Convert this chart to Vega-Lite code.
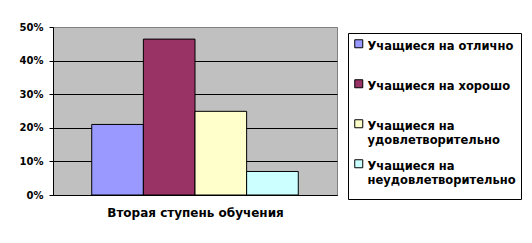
{
  "$schema": "https://vega.github.io/schema/vega-lite/v6.json",
  "width": 284,
  "height": 168,
  "autosize": {"type": "none"},
  "padding": {"left": 53, "top": 27, "right": 195, "bottom": 48},
  "background": "white",
  "config": {
    "view": {"fill": "#C0C0C0", "stroke": "#808080", "strokeWidth": 1},
    "font": "DejaVu Sans"
  },
  "data": {
    "values": [
      {"group": "Вторая ступень обучения", "series": "Учащиеся на отлично", "value": 0.21},
      {"group": "Вторая ступень обучения", "series": "Учащиеся на хорошо", "value": 0.464},
      {"group": "Вторая ступень обучения", "series": "Учащиеся на удовлетворительно", "value": 0.249},
      {"group": "Вторая ступень обучения", "series": "Учащиеся на неудовлетворительно", "value": 0.07}
    ]
  },
  "mark": {"type": "bar", "stroke": "black", "strokeWidth": 1},
  "encoding": {
    "x": {
      "field": "series",
      "type": "nominal",
      "sort": null,
      "scale": {"paddingInner": 0, "paddingOuter": 0.75},
      "axis": {
        "title": "Вторая ступень обучения",
        "labels": false,
        "ticks": false,
        "domainColor": "black",
        "titleFont": "DejaVu Sans",
        "titleFontSize": 12,
        "titleFontWeight": "bold",
        "titleColor": "black",
        "titlePadding": 12
      }
    },
    "y": {
      "field": "value",
      "type": "quantitative",
      "scale": {"domain": [0, 0.5], "nice": false},
      "axis": {
        "title": null,
        "format": ".0%",
        "values": [0, 0.1, 0.2, 0.3, 0.4, 0.5],
        "labelFont": "DejaVu Sans",
        "labelFontSize": 10,
        "labelFontWeight": "bold",
        "labelColor": "black",
        "labelPadding": 6,
        "tickSize": 4,
        "tickColor": "black",
        "domainColor": "black",
        "grid": true,
        "gridColor": {"condition": {"test": "datum.value == 0.5", "value": "#808080"}, "value": "black"},
        "gridOpacity": 1
      }
    },
    "color": {
      "field": "series",
      "type": "nominal",
      "scale": {
        "domain": ["Учащиеся на отлично", "Учащиеся на хорошо", "Учащиеся на удовлетворительно", "Учащиеся на неудовлетворительно"],
        "range": ["#9999FF", "#993366", "#FFFFCC", "#CCFFFF"]
      },
      "legend": {
        "title": " ",
        "titleOrient": "bottom",
        "titleFontSize": 5,
        "titlePadding": 2,
        "orient": "none",
        "legendX": 295,
        "legendY": 6,
        "strokeColor": "black",
        "fillColor": "white",
        "padding": 5,
        "symbolType": "square",
        "symbolSize": 64,
        "symbolStrokeColor": "black",
        "symbolStrokeWidth": 1,
        "symbolOpacity": 1,
        "labelFont": "DejaVu Sans",
        "labelFontSize": 11.5,
        "labelFontWeight": "bold",
        "labelColor": "black",
        "labelBaseline": "middle",
        "labelLimit": 300,
        "labelOffset": 3,
        "rowPadding": 10,
        "labelExpr": "datum.label == 'Учащиеся на удовлетворительно' ? ['Учащиеся на', 'удовлетворительно'] : datum.label == 'Учащиеся на неудовлетворительно' ? ['Учащиеся на', 'неудовлетворительно'] : [datum.label, '']",
        "encode": {
          "labels": {"update": {"dy": {"value": 3}, "lineHeight": {"value": 14.5}}}
        }
      }
    }
  }
}
